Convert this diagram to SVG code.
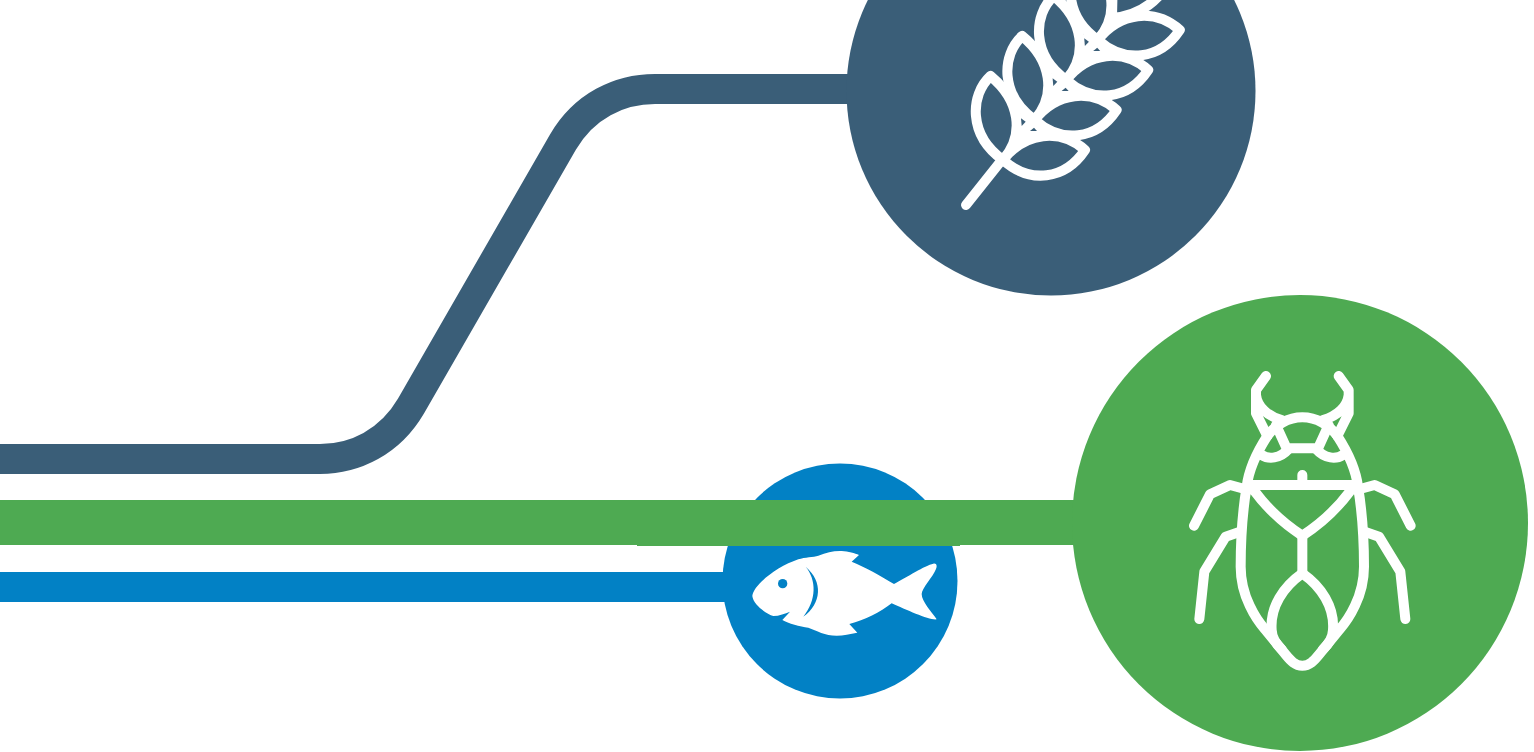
<svg xmlns="http://www.w3.org/2000/svg" xmlns:xlink="http://www.w3.org/1999/xlink" width="1534" height="752" viewBox="0 0 1534 752">
<style>
.dark{fill:#3a5e78}.green{fill:#4eaa52}.blue{fill:#0281c5}
.conn{fill:none}
.line{fill:none;stroke:#fff;stroke-linecap:round;stroke-linejoin:round}
.leaf{fill:#3a5e78;stroke:#fff;stroke-width:10;stroke-linejoin:round}
.wf{fill:#3a5e78}
</style>
<defs>
<path id="lv" d="M990.500,76C970,95 968,135 1003,160C1025,135 1020,100 990.500,76Z"/>
<path id="lh" d="M1003,160C1025,132 1060,128 1085,150C1065,180 1030,184 1003,160Z"/>
<g id="tri"><path d="M1021,118.300L1025.700,121.700L1021.700,126Z"/><path d="M1030,131L1034,127.700L1037,131Z"/></g>
</defs>
<rect width="1534" height="752" fill="#fff"/>
<g id="node-fish">
<circle class="blue" cx="840" cy="581" r="117.500"/>
<g transform="translate(620 460) scale(.33333)">
<path fill="#fff" d="M397,408C400,375 470,320 535,298C555,291 580,292 595,287C620,278 640,272 665,273C685,274 705,280 717,285L695,305C730,318 790,352 822,372C860,352 915,316 940,311C950,309 952,318 948,327C938,352 905,385 905,402C905,425 935,455 950,478C930,482 860,450 815,430C780,457 735,480 688,492L712,518C690,522 670,527 650,527C615,527 590,512 565,503C540,500 505,490 487,480L510,455C495,460 478,468 460,468C440,462 400,435 397,408Z"/>
<path class="blue" d="M557,320C590,360 590,420 550,470C605,430 610,365 557,320Z"/>
<circle class="blue" cx="488" cy="371" r="14"/>
</g>
</g>
<g id="connectors">
<path class="conn" stroke="#3a5e78" stroke-width="30" d="M0,459H320C355,459 390,442 411,406L563,142C584,106 619,89 655,89H850"/>
<rect class="blue" x="0" y="572" width="726" height="30"/>
<rect class="green" x="0" y="500" width="1080" height="45"/>
<rect class="green" x="637" y="545" width="323" height="1"/>
</g>
<g id="node-wheat">
<circle class="dark" cx="1051" cy="91" r="204.500"/>
<line class="line" stroke-width="10" x1="966" y1="205" x2="1005" y2="156"/>
<path d="M1012,148L1125,6" stroke="#fff" stroke-width="30" fill="none"/>
<g class="leaf">
<use xlink:href="#lv"/><use xlink:href="#lv" x="31.600" y="-40"/><use xlink:href="#lv" x="63.200" y="-80"/><use xlink:href="#lv" x="94.800" y="-120"/>
<use xlink:href="#lh"/><use xlink:href="#lh" x="31.600" y="-40"/><use xlink:href="#lh" x="63.200" y="-80"/><use xlink:href="#lh" x="94.800" y="-120"/>
<path d="M1112,18L1113,-30L1175,-30C1160,5 1135,16 1112,18Z"/>
</g>
<g class="wf">
<use xlink:href="#tri"/><use xlink:href="#tri" x="31.600" y="-40"/><use xlink:href="#tri" x="63.200" y="-80"/>
</g>
</g>
<g id="node-bug">
<circle class="green" cx="1300" cy="523" r="228"/>
<g transform="translate(1180 360) scale(.33333)">
<g class="line" stroke-width="30">
<path d="M258,48L228,90V160L262,228M228,105C232,140 262,168 305,180"/>
<path d="M476,48L506,90V160L472,228M506,105C502,140 472,168 429,180"/>
<path d="M262,228C285,195 325,172 367,172C409,172 449,195 472,228"/>
<path d="M288,195L320,265H414L446,195"/>
<path d="M245,285C265,298 300,297 325,268M489,285C469,298 434,297 409,268"/>
<path d="M262,228C225,285 205,340 200,380C185,470 182,550 182,620C182,710 230,780 255,808L318,885C332,902 345,917 367,917C389,917 402,902 416,885L479,808C504,780 552,710 552,620C552,550 549,470 534,380C529,340 509,285 472,228"/>
<path d="M205,375H529M367,345V365"/>
<path d="M225,395C270,455 320,497 367,527C414,497 464,455 509,395"/>
<path d="M367,530V640"/>
<path d="M367,640C310,680 270,740 275,810C276,835 288,852 305,868M367,640C424,680 464,740 459,810C458,835 446,852 429,868"/>
<path d="M42,497L90,403L150,375L205,390M58,777L73,635L137,530L180,515"/>
<path d="M692,497L644,403L584,375L529,390M676,777L661,635L597,530L554,515"/>
</g>
</g>
</g>
</svg>
